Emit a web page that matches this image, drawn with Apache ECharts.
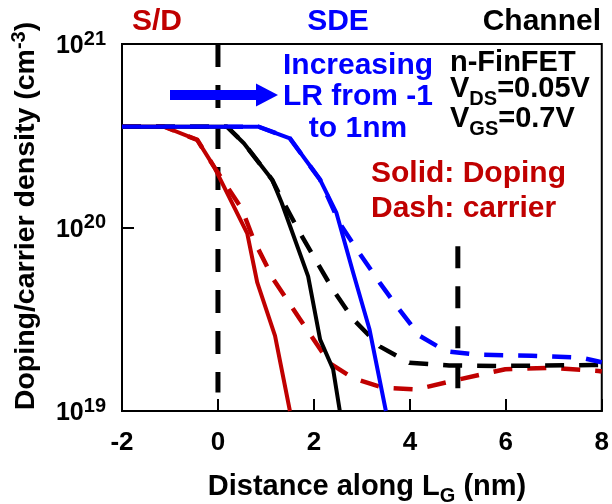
<!DOCTYPE html>
<html><head><meta charset="utf-8">
<script src="https://cdn.jsdelivr.net/npm/echarts@6/dist/echarts.min.js"></script>
<style>html,body{margin:0;padding:0;background:#fff}#c{width:612px;height:504px}</style>
</head><body><div id="c"></div>
<script>
// ---- data (distance in nm, density in cm^-3) ----
const xTicks = [-2, 0, 2, 4, 6, 8];
const yTicks = [1e19, 1e20, 1e21];

const redDopX = [-2, -1.12, -0.43, -0.08, 0.61, 0.82, 1.19, 1.50];
const redDopY = [3.54e20, 3.54e20, 3.0e20, 2.14e20, 9.3e19, 5.0e19, 2.57e19, 1.0e19];
const redCarX = [-2, -1.12, -0.43, -0.08, 0.5, 0.75, 1.16, 1.71, 2.33, 2.82, 3.44, 4.13, 4.89, 5.99, 6.96, 7.93, 8];
const redCarY = [3.54e20, 3.54e20, 3.0e20, 2.14e20, 1.26e20, 8.5e19, 5.2e19, 3.16e19, 1.82e19, 1.51e19, 1.34e19, 1.31e19, 1.46e19, 1.69e19, 1.72e19, 1.65e19, 1.64e19];

const blackDopX = [-2, 0.19, 0.54, 1.13, 1.33, 1.88, 2.13, 2.40, 2.54];
const blackDopY = [3.54e20, 3.54e20, 2.88e20, 1.82e20, 1.36e20, 5.42e19, 2.45e19, 1.69e19, 1.0e19];
const blackCarX = [-2, 0.19, 0.54, 1.13, 1.3, 1.71, 2.40, 2.82, 3.37, 3.99, 4.82, 5.85, 7.79, 8];
const blackCarY = [3.54e20, 3.54e20, 2.88e20, 1.82e20, 1.48e20, 9.33e19, 4.57e19, 3.16e19, 2.25e19, 1.83e19, 1.77e19, 1.76e19, 1.78e19, 1.78e19];

const blueDopX = [-2, 0.85, 1.5, 2.13, 2.47, 2.82, 3.16, 3.5];
const blueDopY = [3.54e20, 3.54e20, 3.06e20, 1.82e20, 1.2e20, 5.65e19, 2.78e19, 1.0e19];
const blueCarX = [-2, 0.85, 1.5, 2.13, 2.54, 2.95, 3.37, 3.78, 4.2, 4.75, 5.37, 6.54, 7.58, 7.93, 8];
const blueCarY = [3.54e20, 3.54e20, 3.06e20, 1.82e20, 1.05e20, 7.24e19, 5.01e19, 3.57e19, 2.57e19, 2.12e19, 2.03e19, 2.0e19, 1.95e19, 1.86e19, 1.84e19];

const sdBoundaryX = [0, 0];
const sdBoundaryY = [1e21, 1.26e19];
const chBoundaryX = [5, 5];
const chBoundaryY = [7.9e19, 1.28e19];

// ---- build ----
const zip = (xs, ys) => xs.map((x, i) => [x, ys[i]]);
const FONT = 'Liberation Sans, Arial, sans-serif';
const RED = '#C00000', BLUE = '#0000FF', BLACK = '#000000';

function line(name, xs, ys, color, dashType, width, z) {
  return {
    name, type: 'line', data: zip(xs, ys), symbol: 'none', z: z,
    lineStyle: { color, width: width, type: dashType, cap: 'butt', join: 'round' },
    silent: true, animation: false
  };
}

const chart = echarts.init(document.getElementById('c'), null, { renderer: 'canvas' });
const txt = (text, x, y, fill, size, align, extra) => Object.assign({
  type: 'text', x, y, z: 10,
  style: { text, fill, font: 'bold ' + size + 'px ' + FONT, align, verticalAlign: 'middle', textAlign: align, textVerticalAlign: 'middle' }
}, extra || {});

const subRich = {
  n: { fill: BLACK, font: 'bold 29px ' + FONT, verticalAlign: 'bottom', padding: [0, 0, 6, 0], lineHeight: 32 },
  s: { fill: BLACK, font: 'bold 20px ' + FONT, verticalAlign: 'bottom', lineHeight: 20 }
};

const option = {
  backgroundColor: '#fff',
  animation: false,
  grid: { left: 122, right: 9, top: 44, bottom: 93, show: true, borderColor: '#000', borderWidth: 2, backgroundColor: 'transparent', containLabel: false },
  xAxis: {
    type: 'value', min: xTicks[0], max: xTicks[xTicks.length - 1], interval: 2,
    axisLine: { show: true, onZero: false, lineStyle: { color: '#000', width: 2 } },
    axisTick: { show: true, inside: true, length: 12, lineStyle: { color: '#000', width: 2 } },
    splitLine: { show: false },
    axisLabel: { color: '#000', fontFamily: FONT, fontWeight: 'bold', fontSize: 26, margin: 19,
      formatter: v => String(v) }
  },
  yAxis: {
    type: 'log', logBase: 10, min: yTicks[0], max: yTicks[yTicks.length - 1],
    axisLine: { show: true, onZero: false, lineStyle: { color: '#000', width: 2 } },
    axisTick: { show: true, inside: true, length: 12, lineStyle: { color: '#000', width: 2 } },
    minorTick: { show: false },
    splitLine: { show: false },
    axisLabel: {
      margin: 16,
      formatter: v => '{b|10}{s|' + Math.round(Math.log10(v)) + '}',
      rich: {
        b: { fontFamily: FONT, fontWeight: 'bold', fontSize: 25, color: '#000', verticalAlign: 'bottom', lineHeight: 30 },
        s: { fontFamily: FONT, fontWeight: 'bold', fontSize: 20, color: '#000', verticalAlign: 'top', lineHeight: 16 }
      }
    }
  },
  series: [
    line('S/D boundary', sdBoundaryX, sdBoundaryY, BLACK, [23, 18], 5, 1),
    line('Channel boundary', chBoundaryX, chBoundaryY, BLACK, [22, 18], 5, 1),
    line('Red carrier', redCarX, redCarY, RED, [19, 15], 4.5, 2),
    line('Black carrier', blackCarX, blackCarY, BLACK, [19, 15], 4.5, 2),
    line('Blue carrier', blueCarX, blueCarY, BLUE, [19, 15], 4.5, 2),
    line('Red doping', redDopX, redDopY, RED, 'solid', 4, 3),
    line('Black doping', blackDopX, blackDopY, BLACK, 'solid', 4, 4),
    line('Blue doping', blueDopX, blueDopY, BLUE, 'solid', 4, 5)
  ],
  graphic: [
    // headers
    txt('S/D', 157, 22, RED, 30, 'center'),
    txt('SDE', 338, 22, BLUE, 30, 'center'),
    txt('Channel', 601, 22, BLACK, 30, 'right'),
    // arrow annotation
    { type: 'rect', shape: { x: 170, y: 90, width: 88, height: 10 }, style: { fill: BLUE }, z: 10 },
    { type: 'polygon', shape: { points: [[256, 83.5], [278, 95], [256, 106.5]] }, style: { fill: BLUE }, z: 10 },
    { type: 'text', x: 358, y: 97, z: 10, style: { text: 'Increasing\nLR from -1\nto 1nm', fill: BLUE, font: 'bold 30px ' + FONT, lineHeight: 31.7, align: 'center', verticalAlign: 'middle', textAlign: 'center', textVerticalAlign: 'middle' } },
    // device info
    txt('n-FinFET', 450, 63, BLACK, 29, 'left'),
    { type: 'text', x: 450, y: 93, z: 10, style: { text: '{n|V}{s|DS}{n|=0.05V}', align: 'left', verticalAlign: 'middle', textAlign: 'left', textVerticalAlign: 'middle', rich: subRich } },
    { type: 'text', x: 450, y: 123, z: 10, style: { text: '{n|V}{s|GS}{n|=0.7V}', align: 'left', verticalAlign: 'middle', textAlign: 'left', textVerticalAlign: 'middle', rich: subRich } },
    // legend text
    txt('Solid: Doping', 371, 174, RED, 30, 'left'),
    txt('Dash: carrier', 371, 209, RED, 30, 'left'),
    // axis titles
    { type: 'text', x: 367, y: 490, style: { text: '{t|Distance along L}{g|G}{t| (nm)}', align: 'center', verticalAlign: 'middle', textAlign: 'center', textVerticalAlign: 'middle',
      rich: { t: { fill: BLACK, font: 'bold 29px ' + FONT, verticalAlign: 'bottom', padding: [0, 0, 5, 0], lineHeight: 32 }, g: { fill: BLACK, font: 'bold 20px ' + FONT, verticalAlign: 'bottom', lineHeight: 20 } } } },
    { type: 'text', x: 25, y: 216, rotation: Math.PI / 2, style: { text: '{t|Doping/carrier density (cm}{u|-3}{t|)}', align: 'center', verticalAlign: 'middle', textAlign: 'center', textVerticalAlign: 'middle',
      rich: { t: { fill: BLACK, font: 'bold 28.5px ' + FONT, verticalAlign: 'bottom', lineHeight: 32 }, u: { fill: BLACK, font: 'bold 20px ' + FONT, verticalAlign: 'top', lineHeight: 18 } } } }
  ]
};
chart.setOption(option);
</script>
</body></html>
